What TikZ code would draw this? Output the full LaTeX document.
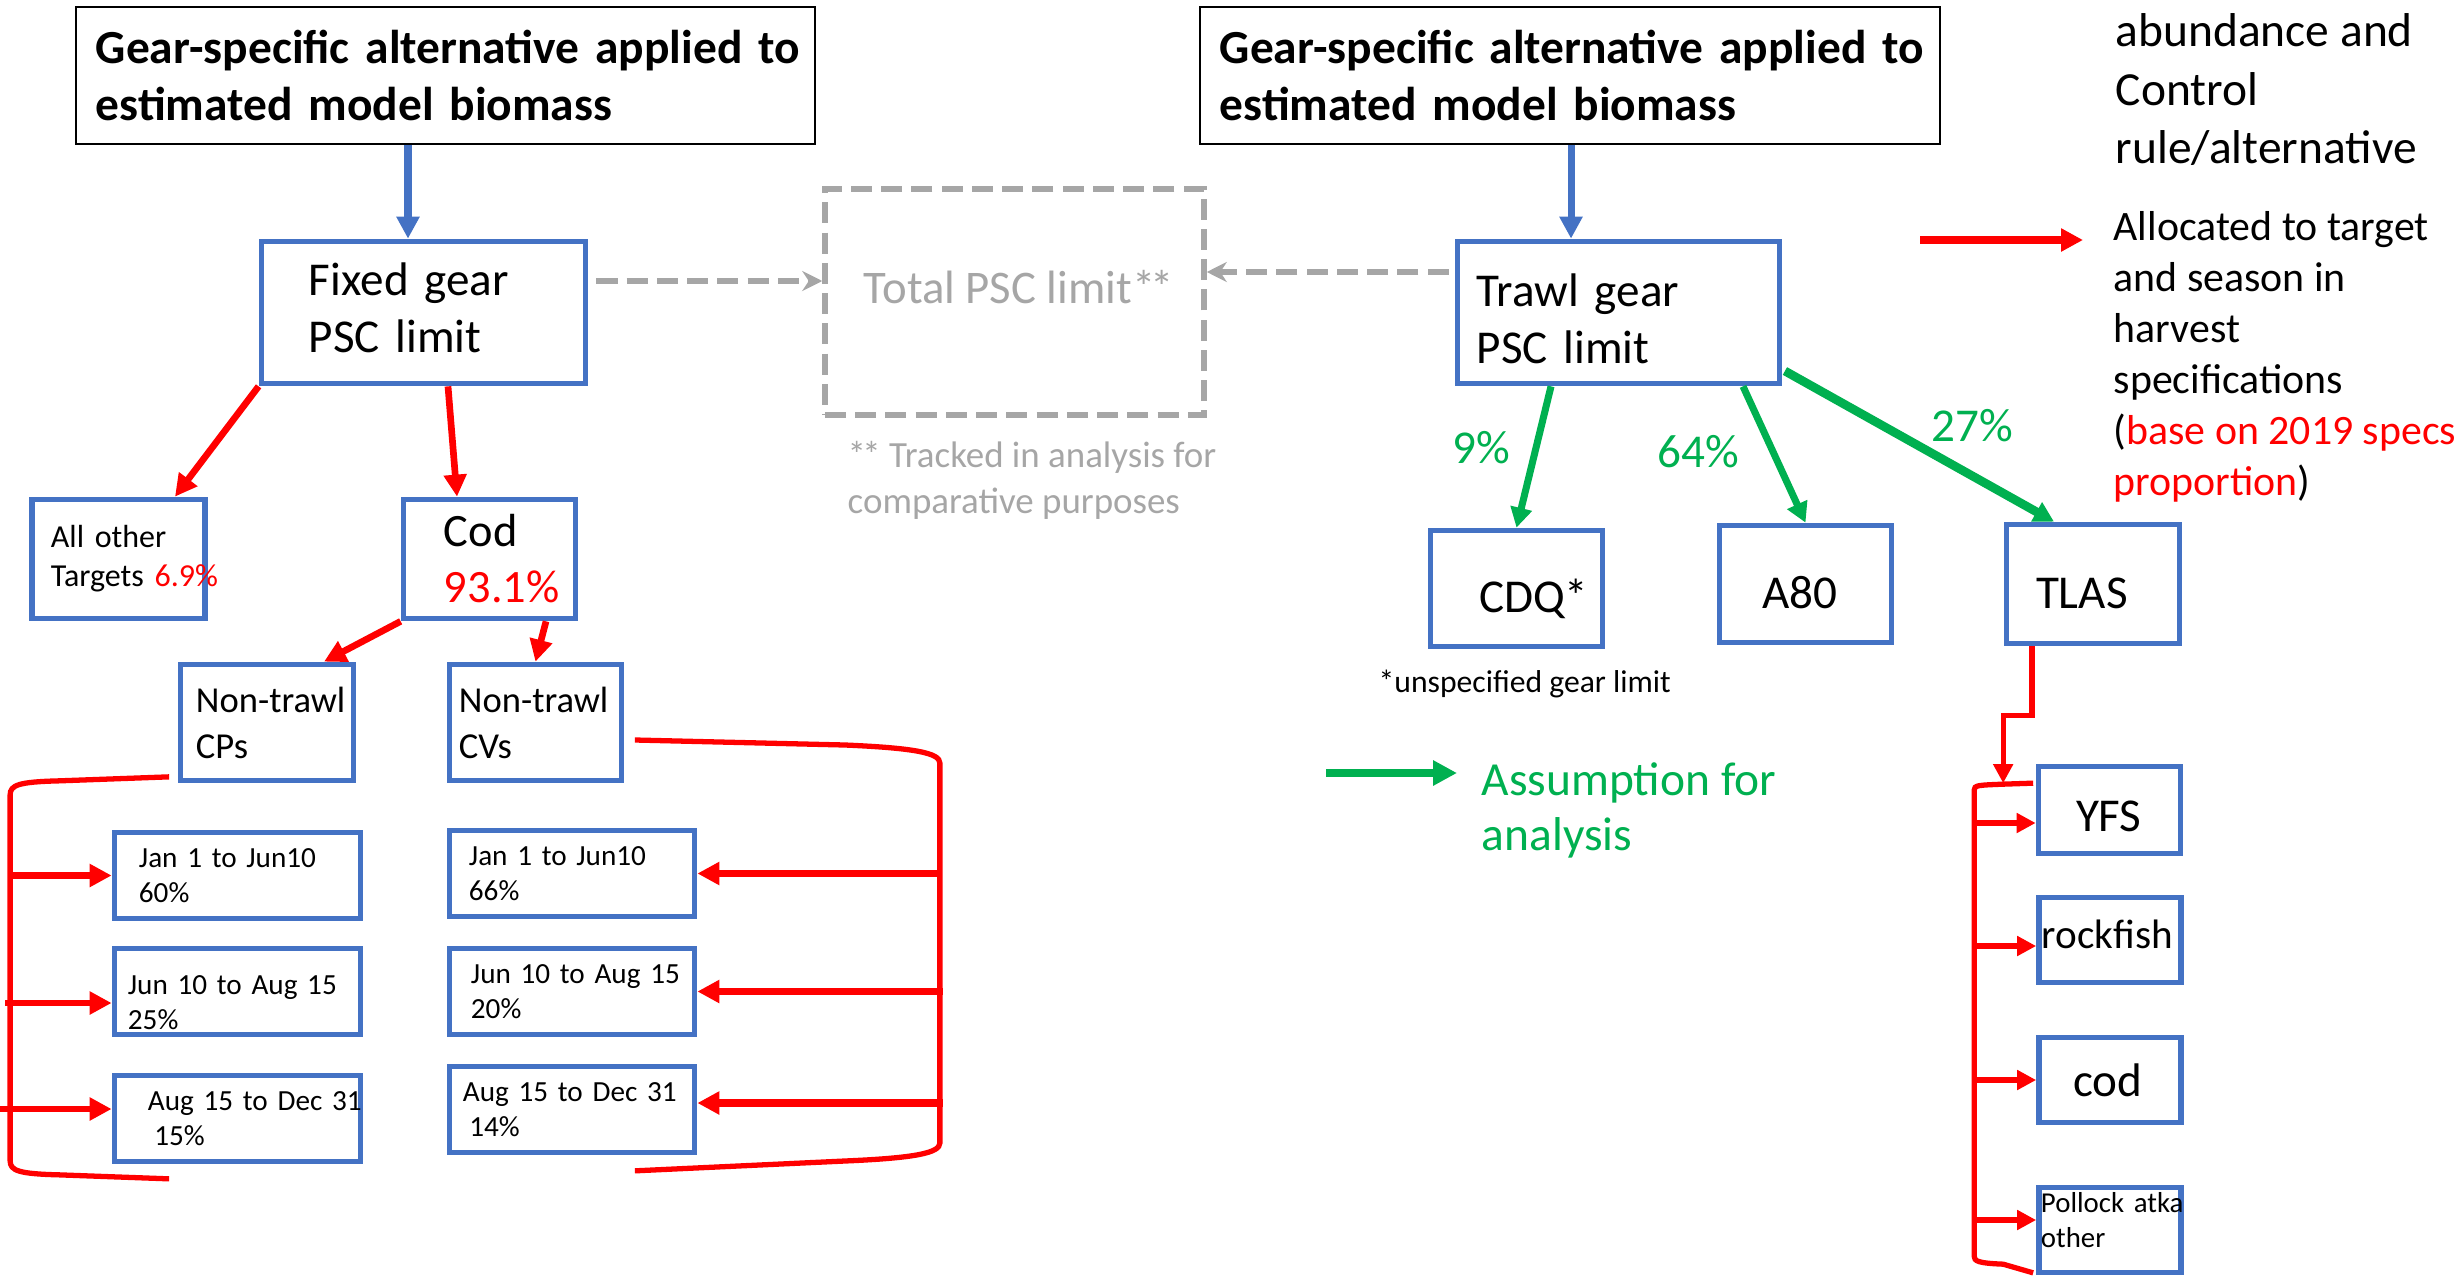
\documentclass[tikz,border=0pt]{standalone}
\usepackage{fontspec}
\setmainfont{Carlito}
\usetikzlibrary{arrows.meta,calc}
\definecolor{pscblue}{RGB}{68,114,196}
\definecolor{pscred}{RGB}{255,0,0}
\definecolor{pscgreen}{RGB}{0,176,80}
\definecolor{pscgray}{RGB}{166,166,166}
\tikzset{%
  pscbox/.style={draw=pscblue, line width=1.6pt, align=left, inner sep=0pt,
                 font=\fontsize{13.4}{16.3}\selectfont},
  season/.style={pscbox, minimum width=2.46cm, minimum height=0.86cm,
                 font=\fontsize{8.3}{10}\selectfont},
  topbox/.style={draw=black, line width=0.7pt, align=left, inner sep=0pt,
                 minimum height=1.37cm, font=\fontsize{13.5}{16.2}\selectfont\bfseries},
  totalbox/.style={draw=pscgray, line width=1.5pt, dash pattern=on 6pt off 2.6pt},
  bigtip/.style={-{Triangle[length=0.22cm,width=0.22cm]}},
  smalltip/.style={-{Triangle[length=0.19cm,width=0.19cm]}},
  bluearr/.style={bigtip, draw=pscblue, line width=2pt},
  redarr/.style={bigtip, draw=pscred, line width=1.9pt},
  grnarr/.style={-{Triangle[length=0.2cm,width=0.21cm]}, draw=pscgreen, line width=2pt},
  grayarr/.style={-{Stealth[length=0.2cm,width=0.2cm]}, draw=pscgray, line width=1.5pt,
                  dash pattern=on 6pt off 2.6pt},
  bracket/.style={draw=pscred, line width=1.5pt},
  pct/.style={text=pscgreen, inner sep=0pt, font=\fontsize{13.4}{16}\selectfont},
  note/.style={inner sep=0pt, align=left},
}
\begin{document}
\begin{tikzpicture}[x=0.01cm,y=-0.01cm]
\useasboundingbox (0,0) rectangle (2458,1282);

% top boxes
\node[topbox, minimum width=7.39cm, text width=6.99cm] (topL) at (445.5,75.5)
  {\mbox{Gear-specific alternative applied to}\\\mbox{estimated model biomass}};
\node[topbox, minimum width=7.40cm, text width=7.00cm] (topR) at (1570,75.5)
  {\mbox{Gear-specific alternative applied to}\\\mbox{estimated model biomass}};

% gear limits
\node[pscbox, minimum width=3.24cm, minimum height=1.42cm, text width=2.29cm,
  text height=6.6pt, text depth=16.3pt] (fixed) at (423.5,312.5)
  {\mbox{Fixed gear}\\\mbox{PSC limit}};
\node[pscbox, minimum width=3.22cm, minimum height=1.42cm, text width=2.83cm,
  text height=9.4pt, text depth=12.9pt] (trawl) at (1618.5,312.5)
  {\mbox{Trawl gear}\\\mbox{PSC limit}};
\node[totalbox, minimum width=3.79cm, minimum height=2.26cm] (total) at (1014.5,302) {};
\node[anchor=base west, inner sep=0pt, text=pscgray, font=\fontsize{13.3}{16}\selectfont]
  (totaltxt) at (863,303) {Total PSC limit*\kern-0.1em*};
\node[note, anchor=north west, text=pscgray, font=\fontsize{10.5}{13.1}\selectfont]
  (tracked) at (847,441) {*\kern-0.1em* Tracked in analysis for\\comparative purposes};

% fixed gear side
\node[pscbox, minimum width=1.73cm, minimum height=1.19cm, text width=1.35cm,
  font=\fontsize{9.1}{11.1}\selectfont] (allother) at (118.5,559)
  {\mbox{All other}\\\mbox{Targets~\textcolor{pscred}{6.9\%}}};
\node[pscbox, minimum width=1.72cm, minimum height=1.19cm, text width=0.91cm,
  font=\fontsize{13.2}{15.9}\selectfont] (cod) at (489.5,559)
  {\mbox{Cod}\\\mbox{\textcolor{pscred}{93.1\%}}};
\node[pscbox, minimum width=1.73cm, minimum height=1.16cm, text width=1.42cm,
  font=\fontsize{10.4}{13.1}\selectfont] (ntcp) at (267,722.5)
  {\mbox{Non-trawl}\\CPs};
\node[pscbox, minimum width=1.72cm, minimum height=1.16cm, text width=1.53cm,
  font=\fontsize{10.4}{13.1}\selectfont] (ntcv) at (535.5,722.5)
  {\mbox{Non-trawl}\\CVs};

\node[season, text width=1.97cm] (s1L) at (237.5,875.5) {\mbox{Jan 1 to Jun10}\\60\%};
\node[season, text width=2.19cm, text height=12pt, text depth=10.5pt]
  (s2L) at (237.5,991.5) {\mbox{Jun 10 to Aug 15}\\25\%};
\node[season, text width=1.79cm] (s3L) at (237.5,1118.5)
  {\mbox{Aug 15 to Dec 31}\\\hspace*{0.22em}15\%};
\node[season, minimum width=2.45cm, text width=2.06cm] (s1R) at (572,873.5)
  {\mbox{Jan 1 to Jun10}\\66\%};
\node[season, minimum width=2.45cm, text width=2.02cm] (s2R) at (572,991.5)
  {\mbox{Jun 10 to Aug 15}\\20\%};
\node[season, minimum width=2.45cm, text width=2.18cm] (s3R) at (572,1109.5)
  {\mbox{Aug 15 to Dec 31}\\\hspace*{0.22em}14\%};

% trawl side
\node[pscbox, minimum width=1.72cm, minimum height=1.16cm, text width=0.75cm,
  text height=13.4pt, text depth=0pt] (cdq) at (1516.5,588.5) {\mbox{CDQ*}};
\node[pscbox, minimum width=1.72cm, minimum height=1.17cm, text width=0.87cm,
  text height=13.7pt, text depth=0pt] (a80) at (1805.5,584) {A80};
\node[pscbox, minimum width=1.73cm, minimum height=1.19cm, text width=1.14cm,
  text height=14.2pt, text depth=0pt] (tlas) at (2093,584) {TLAS};
\node[anchor=base west, inner sep=0pt, font=\fontsize{9}{11}\selectfont]
  (unspec) at (1378,692) {*unspecified gear limit};

\node[pscbox, minimum width=1.42cm, minimum height=0.87cm, text width=0.67cm,
  text height=12.5pt, text depth=0pt] (yfs) at (2109.5,810) {\mbox{YFS}};
\node[pscbox, minimum width=1.42cm, minimum height=0.85cm, text width=1.36cm,
  text height=5.1pt, text depth=0pt, font=\fontsize{11.7}{14}\selectfont]
  (rockfish) at (2110,940) {\mbox{rockfish}};
\node[pscbox, minimum width=1.42cm, minimum height=0.85cm, text width=0.74cm]
  (cod2) at (2110,1080) {\mbox{cod}};
\node[pscbox, minimum width=1.42cm, minimum height=0.85cm, text width=1.38cm,
  text height=0pt, text depth=10.2pt, font=\fontsize{8.2}{10}\selectfont]
  (pollock) at (2110,1230) {\mbox{Pollock atka}\\other};

\node[pct] (p9) at (1481,448) {9\%};
\node[pct] (p64) at (1698,452) {64\%};
\node[pct] (p27) at (1972,426) {27\%};

% legend
\node[note, anchor=north west, font=\fontsize{13.5}{16.6}\selectfont]
  (ctrlrule) at (2115,13) {abundance and\\Control\\rule/alternative};
\node[note, anchor=north west, font=\fontsize{11.9}{14.5}\selectfont]
  (alloc) at (2113,211) {Allocated to target\\and season in\\harvest\\specifications\\
  (\textcolor{pscred}{base on 2019 specs}\\\textcolor{pscred}{proportion})};
\node[note, anchor=north west, text=pscgreen, font=\fontsize{13.5}{15.6}\selectfont]
  (assume) at (1481,762) {Assumption for\\analysis};
\coordinate (legRedA) at (1920,240);
\coordinate (legRedB) at (2083,240);
\coordinate (legGrnA) at (1326,773);
\coordinate (legGrnB) at (1457,773);
\draw[bigtip, draw=pscred, line width=2.1pt] (legRedA) -- (legRedB);
\draw[-{Triangle[length=0.24cm,width=0.24cm]}, draw=pscgreen, line width=2.5pt]
  (legGrnA) -- (legGrnB);

% top-down arrows
\draw[bluearr] ($(topL.south)+(-37.5,0)$) -- ($(fixed.north)+(-15.5,0)$);
\draw[bluearr] ($(topR.south)+(1,0)$) -- ($(trawl.north)+(-47.5,0)$);
\draw[grayarr] ($(fixed.east)+(8,-31.5)$) -- ($(total.west)+(0,-21)$);
\draw[grayarr] ($(trawl.west)+(-6,-40.5)$) -- ($(total.east)+(0,-30)$);

\draw[redarr] (fixed.south west) -- ($(allother.north)+(56.5,0)$);
\draw[redarr] ($(fixed.south)+(24.5,0)$) -- ($(cod.north)+(-32.5,0)$);
\draw[redarr] (cod.south west) -- ($(ntcp.north)+(57,0)$);
\draw[redarr] ($(cod.south)+(56.5,0)$) -- (ntcv.north);

\draw[grnarr] ($(trawl.south)+(-67.5,0)$) -- (cdq.north);
\draw[grnarr] ($(trawl.south)+(124.5,0)$) -- (a80.north);
\draw[grnarr, line width=2.5pt] ($(trawl.east)+(2.5,58.5)$) -- ($(tlas.north)+(-39,0)$);

% season brackets
\draw[bracket] ($(ntcp.south west)+(-8.5,-6.5)$) -- ++(-110,4)
  .. controls +(-40,1) and +(0,-10) .. ++(-49,14) coordinate (cpSpine)
  -- ++(0,366) .. controls +(0,10) and +(-40,-1) .. ++(49,14)
  -- ($(s3L.south west)+(57.5,14.5)$);
\draw[redarr] (cpSpine |- s1L.west) -- (s1L.west);
\draw[redarr, shorten <=-0.05cm] ($(cpSpine |- s2L.west)+(0,11.5)$) -- ($(s2L.west)+(0,11.5)$);
\draw[redarr, shorten <=-0.12cm] ($(cpSpine |- s3L.west)+(0,-9.5)$) -- ($(s3L.west)+(0,-9.5)$);

\draw[bracket] ($(ntcv.east)+(10.5,17.5)$) -- ++(210,5)
  .. controls +(70,3) and +(0,-10) .. ++(95,18) coordinate (cvSpine)
  -- ++(0,380) .. controls +(0,10) and +(70,-3) .. ++(-95,18)
  -- ($(s3R.south east)+(-62.5,15.5)$);
\draw[redarr, line width=2.2pt] (cvSpine |- s1R.east) -- (s1R.east);
\draw[redarr, line width=2.2pt, shorten <=-0.03cm] (cvSpine |- s2R.east) -- (s2R.east);
\draw[redarr, line width=2.2pt, shorten <=-0.03cm] ($(cvSpine |- s3R.east)+(0,-6.5)$) -- ($(s3R.east)+(0,-6.5)$);

% TLAS split
\draw[smalltip, draw=pscred, line width=1.5pt] ($(tlas.south)+(-61,0)$) -- ++(0,69)
  -| ($(yfs.north west)+(-32.5,19.5)$);
\draw[bracket] ($(yfs.north west)+(-2.5,19.5)$) -- ++(-30,1)
  .. controls +(-25,1) and +(0,-5) .. ++(-29,6) coordinate (tlSpine)
  -- ++(0,466) .. controls +(0,5) and +(-25,-1) .. ++(29,8)
  -- ($(pollock.south west)+(-3,-2.5)$);
\draw[smalltip, draw=pscred, line width=1.5pt] ($(tlSpine |- yfs.west)+(0,13)$) -- ($(yfs.west)+(0,13)$);
\draw[smalltip, draw=pscred, line width=1.5pt] ($(tlSpine |- rockfish.west)+(0,6)$) -- ($(rockfish.west)+(0,6)$);
\draw[smalltip, draw=pscred, line width=1.5pt] (tlSpine |- cod2.west) -- (cod2.west);
\draw[smalltip, draw=pscred, line width=1.5pt] ($(tlSpine |- pollock.west)+(0,-10)$) -- ($(pollock.west)+(0,-10)$);
\end{tikzpicture}
\end{document}
